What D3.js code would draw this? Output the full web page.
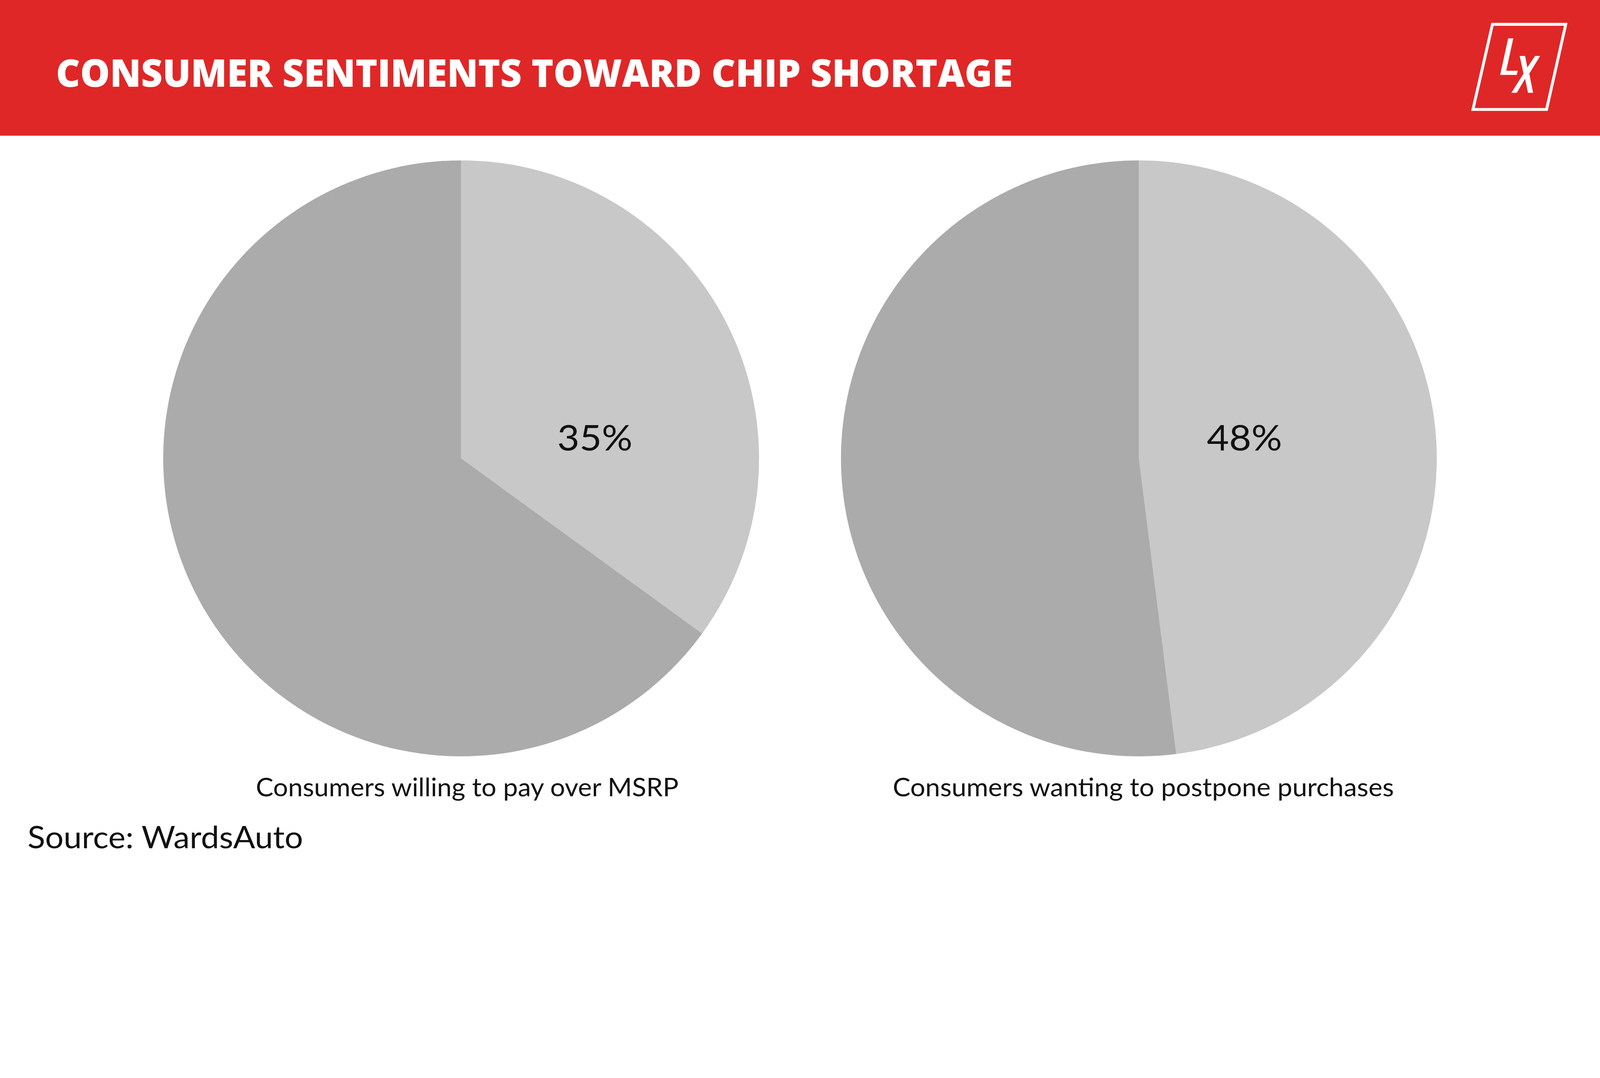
<!DOCTYPE html>
<html>
<head>
<meta charset="utf-8">
<script src="https://cdn.jsdelivr.net/npm/d3@7"></script>
<style>
  html, body { margin: 0; padding: 0; background: #fff; overflow: hidden; }
  svg { display: block; width: 100vw; height: 100vh; }
</style>
</head>
<body>
<svg id="chart" viewBox="0 0 5000 2759" preserveAspectRatio="xMidYMin meet"></svg>
<script>
// Chart data
var chartTitle = "CONSUMER SENTIMENTS TOWARD CHIP SHORTAGE";
var pieLabels = ["Consumers willing to pay over MSRP", "Consumers wanting to postpone purchases"];
var pieShares = [35, 48];
var sourceText = "Source: WardsAuto";

var W = 5000, H = 2759;
var svg = d3.select("#chart");
var font = "Lato, 'Open Sans', sans-serif";

// header band
svg.append("rect").attr("width", W).attr("height", 424).attr("fill", "#e02727");
svg.append("text")
  .attr("x", 175).attr("y", 271)
  .attr("fill", "#fff")
  .attr("font-family", "'Open Sans', Lato, sans-serif")
  .attr("font-weight", 800)
  .attr("font-size", 118)
  .attr("textLength", 2990).attr("lengthAdjust", "spacingAndGlyphs")
  .text(chartTitle);

// LX logo
var logo = svg.append("g");
logo.append("path")
  .attr("d", "M4664,76 L4893,76 L4833,342 L4603,342 Z")
  .attr("fill", "none").attr("stroke", "#fff").attr("stroke-width", 9);
logo.append("path")
  .attr("d", "M4713,120 L4729,120 L4707,221 L4743,221 L4740,234 L4688,234 Z")
  .attr("fill", "#fff");
logo.append("path")
  .attr("d", "M4749,175 L4766,175 L4773,211 L4797,175 L4813,175 L4779,230 L4791,290 L4775,290 L4766,246 L4740,290 L4723,290 L4761,230 Z")
  .attr("fill", "#fff");

// pies
var cx = d3.scaleLinear().domain([0, 1]).range([1441, 3559]);
var cy = 1432, r = 931;
var pie = d3.pie().sort(null).value(function(d) { return d; });
var arc = d3.arc().innerRadius(0).outerRadius(r);
var colors = ["#c8c8c8", "#ababab"];
var labelX = [1460, 3573], labelLen = [1321, 1566];

pieShares.forEach(function(share, i) {
  var g = svg.append("g").attr("transform", "translate(" + cx(i) + "," + cy + ")");
  g.selectAll("path")
    .data(pie([share, 100 - share]))
    .enter().append("path")
    .attr("d", arc)
    .attr("fill", function(d, j) { return colors[j]; });
  g.append("text")
    .attr("x", i === 0 ? 418 : 330).attr("y", -68)
    .attr("text-anchor", "middle").attr("dominant-baseline", "central")
    .attr("font-family", font)
    .attr("font-size", 112)
    .attr("textLength", 235).attr("lengthAdjust", "spacingAndGlyphs")
    .attr("fill", "#111")
    .text(share + "%");
  svg.append("text")
    .attr("x", labelX[i]).attr("y", 2488)
    .attr("text-anchor", "middle")
    .attr("font-family", font)
    .attr("font-size", 80)
    .attr("textLength", labelLen[i]).attr("lengthAdjust", "spacingAndGlyphs")
    .attr("fill", "#111")
    .text(pieLabels[i]);
});

svg.append("text")
  .attr("x", 86).attr("y", 2650)
  .attr("font-family", font)
  .attr("font-size", 98)
  .attr("textLength", 861).attr("lengthAdjust", "spacingAndGlyphs")
  .attr("fill", "#111")
  .text(sourceText);
</script>
</body>
</html>
